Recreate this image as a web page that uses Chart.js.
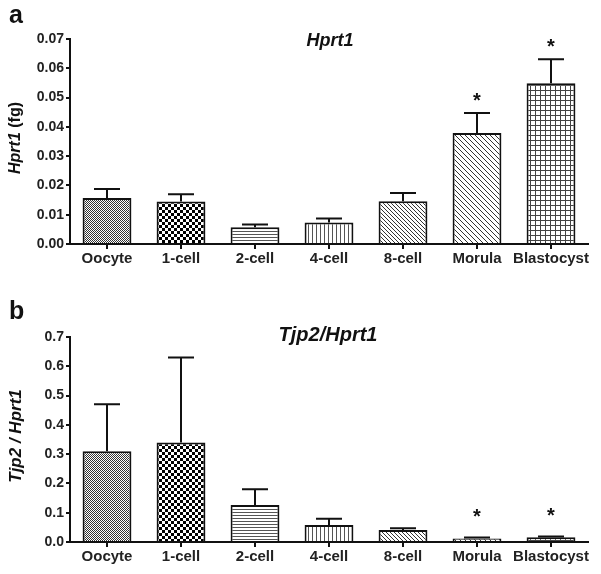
<!DOCTYPE html>
<html>
<head>
<meta charset="utf-8">
<script src="https://cdn.jsdelivr.net/npm/chart.js@4.4.1/dist/chart.umd.min.js"></script>
<style>
  body { margin: 0; background: #fff; }
  #wrap { position: relative; width: 601px; height: 574px; }
  .panel { position: absolute; left: 0; width: 601px; }
  #panelA { top: 0; height: 280px; }
  #panelB { top: 290px; height: 284px; }
</style>
</head>
<body>
<div id="wrap">
  <div class="panel" id="panelA"><canvas id="chartA" width="601" height="280"></canvas></div>
  <div class="panel" id="panelB"><canvas id="chartB" width="601" height="284"></canvas></div>
</div>
<script>
// stages along the x axis
const stages = ['Oocyte', '1-cell', '2-cell', '4-cell', '8-cell', 'Morula', 'Blastocyst'];

// panel a: Hprt1 (fg)
const hprt1Mean = [0.0157, 0.0145, 0.0057, 0.0073, 0.0146, 0.0379, 0.0549];
const hprt1Sem = [0.0031, 0.0025, 0.0010, 0.0014, 0.0028, 0.0068, 0.0082];
const hprt1Stars = [false, false, false, false, false, true, true];

// panel b: Tjp2 / Hprt1
const tjp2Mean = [0.31, 0.34, 0.126, 0.058, 0.041, 0.012, 0.016];
const tjp2Sem = [0.16, 0.29, 0.054, 0.021, 0.006, 0.003, 0.003];
const tjp2Stars = [false, false, false, false, false, true, true];

const FONT = "'Liberation Sans', Arial, sans-serif";

// hatch patterns, one per stage
function makePattern(kind) {
    const c = document.createElement('canvas');
    const ctx = c.getContext('2d');
    let s = 4;
    if (kind === 'grey') s = 2;
    if (kind === 'checker') s = 6;
    if (kind === 'grid') s = 5;
    if (kind === 'hlines') s = 3;
    if (kind === 'vlines') s = 4;
    if (kind === 'diag1') s = 4;
    if (kind === 'diag2') s = 5;
    c.width = s; c.height = s;
    ctx.fillStyle = '#fff';
    ctx.fillRect(0, 0, s, s);
    ctx.fillStyle = '#333';
    ctx.strokeStyle = '#333';
    ctx.lineWidth = 1;
    if (kind === 'grey') {
        ctx.fillRect(0, 0, 1, 1);
        ctx.fillRect(1, 1, 1, 1);
    } else if (kind === 'checker') {
        ctx.fillStyle = '#000';
        ctx.fillRect(0, 0, 3, 3);
        ctx.fillRect(3, 3, 3, 3);
    } else if (kind === 'hlines') {
        ctx.fillStyle = '#555';
        ctx.fillRect(0, 0, s, 1);
    } else if (kind === 'vlines') {
        ctx.fillStyle = '#555';
        ctx.fillRect(0, 0, 1, s);
    } else if (kind === 'grid') {
        ctx.fillStyle = '#444';
        ctx.fillRect(0, 0, s, 1);
        ctx.fillRect(0, 0, 1, s);
    } else {
        ctx.beginPath();
        ctx.moveTo(-1, -1); ctx.lineTo(s + 1, s + 1);
        ctx.moveTo(-1, s - 1); ctx.lineTo(1, s + 1);
        ctx.moveTo(s - 1, -1); ctx.lineTo(s + 1, 1);
        ctx.stroke();
    }
    return document.getElementById('chartA').getContext('2d').createPattern(c, 'repeat');
}
const patternKinds = ['grey', 'checker', 'hlines', 'vlines', 'diag1', 'diag2', 'grid'];
const fills = patternKinds.map(makePattern);

// error bars, stars, title, axis label and panel letter
const extrasPlugin = {
    id: 'extras',
    afterDatasetsDraw(chart) {
        const ex = chart.options.plugins.extras;
        const ctx = chart.ctx;
        const y = chart.scales.y;
        const meta = chart.getDatasetMeta(0);
        const means = chart.data.datasets[0].data;
        ctx.save();
        ctx.strokeStyle = '#111';
        ctx.lineWidth = 2;
        meta.data.forEach((bar, i) => {
            const top = y.getPixelForValue(means[i] + ex.sem[i]);
            const base = y.getPixelForValue(means[i]);
            ctx.beginPath();
            ctx.moveTo(bar.x, base);
            ctx.lineTo(bar.x, top);
            ctx.moveTo(bar.x - 13, top);
            ctx.lineTo(bar.x + 13, top);
            ctx.stroke();
            if (ex.stars[i]) {
                ctx.fillStyle = '#111';
                ctx.font = 'bold 20px ' + FONT;
                ctx.textAlign = 'center';
                ctx.textBaseline = 'middle';
                ctx.fillText('*', bar.x, top - ex.starGap);
            }
        });
        ctx.restore();
    },
    afterDraw(chart) {
        const ex = chart.options.plugins.extras;
        const ctx = chart.ctx;
        ctx.save();
        ctx.fillStyle = '#111';
        // panel letter
        ctx.font = 'bold 25px ' + FONT;
        ctx.textAlign = 'left';
        ctx.textBaseline = 'top';
        ctx.fillText(ex.letter, 9, ex.letterY);
        // title
        ctx.font = 'italic bold ' + ex.titleSize + 'px ' + FONT;
        ctx.textAlign = 'center';
        ctx.textBaseline = 'middle';
        ctx.fillText(ex.title, ex.titleX, ex.titleY);
        // y label with mixed styles
        ctx.translate(16, ex.ylabelY);
        ctx.rotate(-Math.PI / 2);
        ctx.textAlign = 'left';
        let total = 0;
        ex.ylabel.forEach(p => {
            ctx.font = (p.italic ? 'italic ' : '') + 'bold ' + ex.ylabelSize + 'px ' + FONT;
            total += ctx.measureText(p.text).width;
        });
        let x = -total / 2;
        ex.ylabel.forEach(p => {
            ctx.font = (p.italic ? 'italic ' : '') + 'bold ' + ex.ylabelSize + 'px ' + FONT;
            ctx.fillText(p.text, x, 0);
            x += ctx.measureText(p.text).width;
        });
        ctx.restore();
    }
};

function buildConfig(means, opts) {
    return {
        type: 'bar',
        data: {
            labels: stages,
            datasets: [{
                data: means,
                backgroundColor: fills,
                borderColor: '#111',
                borderWidth: 2,
                categoryPercentage: 1,
                barPercentage: 0.66
            }]
        },
        options: {
            responsive: false,
            animation: false,
            layout: { padding: { left: 0, right: 13, top: opts.padTop, bottom: 0 } },
            plugins: {
                legend: { display: false },
                tooltip: { enabled: false },
                extras: opts.extras
            },
            scales: {
                x: {
                    afterFit(scale) { scale.height = opts.xHeight; },
                    grid: { display: true, drawOnChartArea: false, offset: false, color: '#111', lineWidth: 2, tickLength: 5 },
                    border: { display: true, color: '#111', width: 2 },
                    ticks: { color: '#222', font: { family: FONT, size: 15, weight: 'bold' }, padding: 1, maxRotation: 0, autoSkip: false }
                },
                y: {
                    min: 0,
                    max: opts.max,
                    afterFit(scale) { scale.width = 70; },
                    grid: { display: true, drawOnChartArea: false, color: '#111', lineWidth: 2, tickLength: 4 },
                    border: { display: true, color: '#111', width: 2 },
                    ticks: {
                        stepSize: opts.step,
                        color: '#222',
                        padding: 2,
                        font: { family: FONT, size: 14, weight: 'bold' },
                        callback: v => v.toFixed(opts.decimals)
                    }
                }
            }
        },
        plugins: [extrasPlugin]
    };
}

new Chart(document.getElementById('chartA'), buildConfig(hprt1Mean, {
    padTop: 39, xHeight: 36, max: 0.07, step: 0.01, decimals: 2,
    extras: {
        sem: hprt1Sem, stars: hprt1Stars, starGap: 12,
        letter: 'a', letterY: 4,
        title: 'Hprt1', titleSize: 18, titleX: 330, titleY: 41,
        ylabel: [{ text: 'Hprt1', italic: true }, { text: ' (fg)', italic: false }],
        ylabelSize: 16, ylabelY: 138
    }
}));

new Chart(document.getElementById('chartB'), buildConfig(tjp2Mean, {
    padTop: 47, xHeight: 32, max: 0.7, step: 0.1, decimals: 1,
    extras: {
        sem: tjp2Sem, stars: tjp2Stars, starGap: 20,
        letter: 'b', letterY: 10,
        title: 'Tjp2/Hprt1', titleSize: 20, titleX: 328, titleY: 45,
        ylabel: [{ text: 'Tjp2 / Hprt1', italic: true }],
        ylabelSize: 17, ylabelY: 146
    }
}));
</script>
</body>
</html>
